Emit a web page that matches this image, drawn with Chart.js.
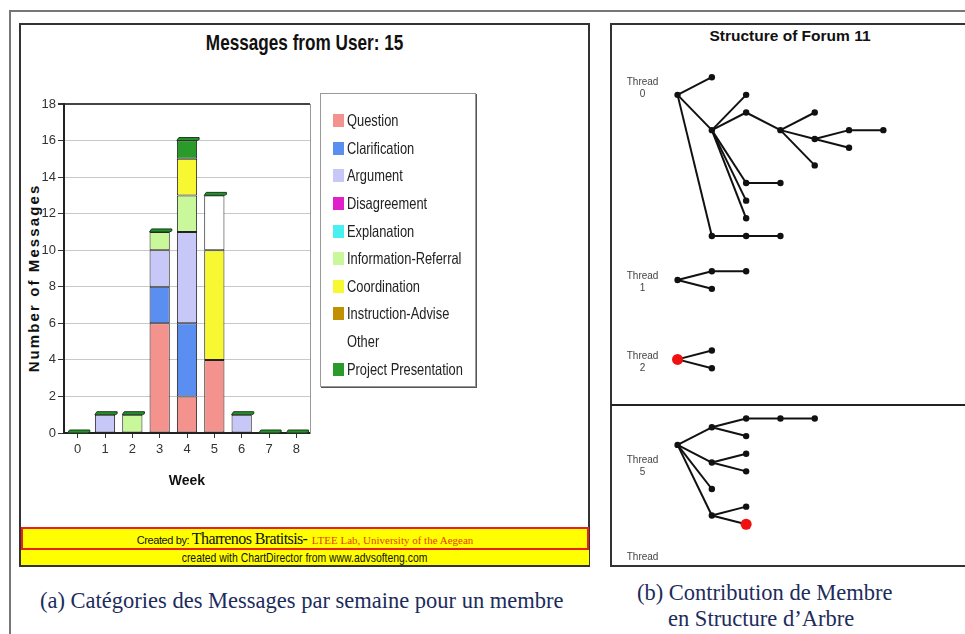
<!DOCTYPE html>
<html>
<head>
<meta charset="utf-8">
<script src="https://cdn.jsdelivr.net/npm/chart.js@4.4.1/dist/chart.umd.min.js"></script>
<style>
  body { margin:0; width:965px; height:634px; background:#fff; position:relative; overflow:hidden; font-family:"Liberation Sans", Arial, sans-serif; }
  .abs { position:absolute; }
  .sq { display:inline-block; transform:scaleX(0.8); white-space:nowrap; }
  #frame { left:9px; top:10px; width:1000px; height:700px; border:2px solid #777; }
  #panelA { left:19px; top:23px; width:567px; height:540px; border:2px solid #333; }
  #panelB { left:610px; top:23px; width:400px; height:540px; border:2px solid #333; }
  #divider { left:611px; top:404px; width:360px; border-top:2px solid #222; }
  #titleA { left:20px; top:30px; width:570px; text-align:center; font-weight:bold; font-size:22px; color:#111; }
  #titleA .sq { transform:scaleX(0.78); transform-origin:center; }
  #titleB { left:612px; top:27px; width:356px; text-align:center; font-weight:bold; font-size:15.5px; color:#111; }
  #ytitle { left:33px; top:278px; transform:translate(-50%,-50%) rotate(-90deg); white-space:nowrap; font-weight:bold; font-size:15px; letter-spacing:2.1px; color:#111; }
  #legend { left:320px; top:93px; width:156px; height:294px; border:1px solid #999; box-shadow:1px 1px 0 #555; padding-top:13px; box-sizing:border-box; }
  .item { height:27.6px; display:flex; align-items:center; padding-left:12px; font-size:16.5px; color:#222; }
  .item .sq { transform-origin:left; transform:scaleX(0.78); }
  .sw { width:11px; height:13px; margin-right:3px; flex:none; }
  #foot1 { left:21px; top:527px; width:564px; height:19px; background:#ffff00; border:2px solid #e82020; text-align:center; line-height:19px; white-space:nowrap; }
  #foot2 { left:21px; top:550px; width:568px; height:15px; background:#ffff00; text-align:center; font-size:13px; line-height:15px; color:#111; }
  #foot2 .sq { transform:scaleX(0.8); transform-origin:center; }
  .cap { font-family:"Liberation Serif", "Times New Roman", serif; color:#1c2c5c; font-size:22.5px; line-height:26px; white-space:nowrap; }
</style>
</head>
<body>
<div id="frame" class="abs"></div>
<div id="panelA" class="abs"></div>
<div id="panelB" class="abs"></div>
<div id="divider" class="abs"></div>

<div id="titleA" class="abs"><span class="sq">Messages from User: 15</span></div>
<div id="ytitle" class="abs">Number of Messages</div>
<div class="abs" style="left:21px;top:80px;width:300px;height:410px"><canvas id="bars"></canvas></div>
<div id="legend" class="abs"></div>

<div id="foot1" class="abs">
  <span style="font-size:11px;color:#111;letter-spacing:-0.4px">Created by: </span><span style="font-family:'Liberation Serif',serif;font-size:16px;color:#111;letter-spacing:-0.6px">Tharrenos Bratitsis-</span>
  <span style="font-family:'Liberation Serif',serif;font-size:11px;color:#e84000"> LTEE Lab, University of the Aegean</span>
</div>
<div id="foot2" class="abs"><span class="sq">created with ChartDirector from www.advsofteng.com</span></div>

<div id="titleB" class="abs">Structure of Forum 11</div>
<div class="abs" style="left:612px;top:25px;width:352px;height:541px"><canvas id="tree"></canvas></div>

<div class="abs cap" style="left:40px;top:588px">(a) Catégories des Messages par semaine pour un membre</div>
<div class="abs cap" style="left:637px;top:580px">(b) Contribution de Membre</div>
<div class="abs cap" style="left:668px;top:606px">en Structure d’Arbre</div>

<script>
// ---- (a) messages per week, stacked by category
const weeks = ['0', '1', '2', '3', '4', '5', '6', '7', '8'];
const categories = ['Question', 'Clarification', 'Argument', 'Disagreement', 'Explanation',
  'Information-Referral', 'Coordination', 'Instruction-Advise', 'Other', 'Project Presentation'];
const categoryColors = ['#f4928e', '#5a8ef0', '#c8c8f8', '#e020c8', '#48f0f0',
  '#c8f89a', '#f8f832', '#c09000', '#ffffff', '#2a9a2a'];
const question      = [0, 0, 0, 6, 2, 4, 0, 0, 0];
const clarification = [0, 0, 0, 2, 4, 0, 0, 0, 0];
const argument      = [0, 1, 0, 2, 5, 0, 1, 0, 0];
const disagreement  = [0, 0, 0, 0, 0, 0, 0, 0, 0];
const explanation   = [0, 0, 0, 0, 0, 0, 0, 0, 0];
const infoReferral  = [0, 0, 1, 1, 2, 0, 0, 0, 0];
const coordination  = [0, 0, 0, 0, 2, 6, 0, 0, 0];
const instruction   = [0, 0, 0, 0, 0, 0, 0, 0, 0];
const other         = [0, 0, 0, 0, 0, 3, 0, 0, 0];
const presentation  = [0, 0, 0, 0, 1, 0, 0, 0, 0];
const yTicks = [0, 2, 4, 6, 8, 10, 12, 14, 16, 18];

const series = [question, clarification, argument, disagreement, explanation,
  infoReferral, coordination, instruction, other, presentation];

// legend (Other has a white swatch, so it looks blank)
document.getElementById('legend').innerHTML = categories.map((c, i) =>
  `<div class="item"><span class="sw" style="background:${categoryColors[i]}"></span><span class="sq">${c}</span></div>`).join('');

// 3D-ish green cap on top of every stack
const capPlugin = {
  id: 'caps',
  afterDatasetsDraw(chart) {
    const ctx = chart.ctx, y = chart.scales.y, meta = chart.getDatasetMeta(0);
    weeks.forEach((w, i) => {
      const total = series.reduce((s, arr) => s + arr[i], 0);
      const bar = meta.data[i], top = y.getPixelForValue(total);
      const l = bar.x - bar.width / 2, r = bar.x + bar.width / 2;
      ctx.save();
      ctx.fillStyle = '#23912a';
      ctx.strokeStyle = '#1c3a1c';
      ctx.lineWidth = 1;
      ctx.beginPath();
      ctx.moveTo(l, top); ctx.lineTo(l + 2, top - 3); ctx.lineTo(r + 2, top - 3);
      ctx.lineTo(r + 2, top - 1); ctx.lineTo(r, top); ctx.closePath();
      ctx.fill(); ctx.stroke();
      ctx.restore();
    });
  }
};

new Chart(document.getElementById('bars'), {
  type: 'bar',
  data: {
    labels: weeks,
    datasets: categories.map((c, i) => ({
      label: c, data: series[i], backgroundColor: categoryColors[i],
      borderColor: '#222', borderWidth: 1, borderSkipped: false
    }))
  },
  options: {
    responsive: true, maintainAspectRatio: false, animation: false,
    layout: { padding: { top: 24, right: 11, left: 0, bottom: 0 } },
    plugins: { legend: { display: false }, tooltip: { enabled: false } },
    datasets: { bar: { barPercentage: 0.74, categoryPercentage: 1 } },
    scales: {
      x: {
        stacked: true,
        grid: { display: true, drawOnChartArea: false, offset: false, tickLength: 5, tickColor: '#333' },
        border: { color: '#222', width: 2 },
        ticks: { color: '#333', padding: 4, font: { family: '"Liberation Sans", Arial', size: 13 } },
        title: { display: true, text: 'Week', color: '#111', padding: 0, font: { family: '"Liberation Sans", Arial', size: 14, weight: 'bold' } },
        afterFit: s => { s.height = 57; }
      },
      y: {
        stacked: true, min: 0, max: 18,
        afterBuildTicks: s => { s.ticks = yTicks.map(v => ({ value: v })); },
        grid: { color: c => c.tick && c.tick.value === 18 ? '#444' : '#c8c8c8', tickLength: 6, tickColor: '#333', lineWidth: c => c.tick && c.tick.value === 18 ? 2 : 1 },
        border: { color: '#222', width: 2 },
        ticks: { color: '#333', padding: 2, font: { family: '"Liberation Sans", Arial', size: 13 } },
        afterFit: s => { s.width = 43; }
      },
      y2: {
        position: 'right', display: true,
        grid: { display: false }, ticks: { display: false },
        border: { color: '#999', width: 1 },
        afterFit: s => { s.width = 0; }
      }
    }
  },
  plugins: [capPlugin]
});

// ---- (b) forum thread trees: depth = column, row = vertical slot (half steps)
const nodeDepth  = [0, 1, 1, 2, 2, 3, 4, 4, 5, 6, 5, 4, 2, 3, 2, 2, 1, 2, 3,
                    0, 1, 2, 1,
                    0, 1, 1,
                    0, 1, 2, 3, 4, 2, 1, 2, 2, 1, 1, 2, 2];
const nodeRow    = [2, 0, 6, 2, 4, 6, 4, 7, 6, 6, 8, 10, 12, 12, 14, 16, 18, 18, 18,
                    23, 22, 22, 24,
                    32, 31, 33,
                    41.7, 39.7, 38.7, 38.7, 38.7, 40.7, 43.7, 42.7, 44.7, 46.7, 49.7, 48.7, 50.7];
const nodeParent = [-1, 0, 0, 2, 2, 4, 5, 5, 7, 8, 7, 5, 2, 12, 2, 2, 0, 16, 17,
                    -1, 19, 20, 19,
                    -1, 23, 23,
                    -1, 26, 27, 28, 29, 27, 26, 32, 32, 26, 26, 36, 36];
const memberNodes = [23, 38];
const threadNames = ['0', '1', '2', '5', ''];
const threadLabelRow = [0.6, 22.6, 31.6, 43.4, 54.4];

const edges = nodeParent.map((p, i) => p < 0 ? null : ({
  data: [{ x: nodeDepth[p], y: nodeRow[p] }, { x: nodeDepth[i], y: nodeRow[i] }],
  showLine: true, borderColor: '#111', borderWidth: 2, pointRadius: 0, order: 1
})).filter(Boolean);

const threadLabels = {
  id: 'threadLabels',
  afterDraw(chart) {
    const ctx = chart.ctx, x = chart.scales.x, y = chart.scales.y;
    ctx.save();
    ctx.fillStyle = '#444';
    ctx.font = '10px "Liberation Sans", Arial';
    ctx.textAlign = 'center';
    ctx.textBaseline = 'middle';
    threadNames.forEach((n, i) => {
      const px = x.getPixelForValue(-1.02), py = y.getPixelForValue(threadLabelRow[i]);
      ctx.fillText('Thread', px, py);
      if (n) ctx.fillText(n, px, py + 12);
    });
    ctx.restore();
  }
};

new Chart(document.getElementById('tree'), {
  type: 'scatter',
  data: {
    datasets: [
      {
        data: nodeDepth.map((d, i) => ({ x: d, y: nodeRow[i] })),
        pointRadius: nodeDepth.map((d, i) => memberNodes.includes(i) ? 5.5 : 3.2),
        pointBackgroundColor: nodeDepth.map((d, i) => memberNodes.includes(i) ? '#f01010' : '#111'),
        pointBorderWidth: 0, order: 0
      },
      ...edges
    ]
  },
  options: {
    responsive: true, maintainAspectRatio: false, animation: false,
    layout: { padding: 0 },
    plugins: { legend: { display: false }, tooltip: { enabled: false } },
    scales: {
      x: { display: false, min: -1.751, max: 8.192 },
      y: { display: false, reverse: true, min: -5.3, max: 54.81 }
    }
  },
  plugins: [threadLabels]
});
</script>
</body>
</html>
